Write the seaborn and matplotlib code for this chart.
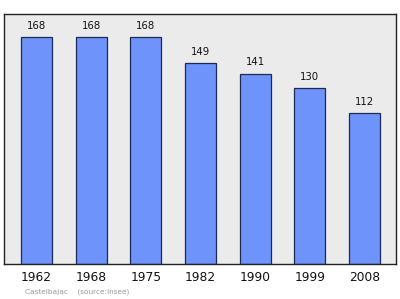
import matplotlib
matplotlib.use("Agg")
import matplotlib.pyplot as plt
import seaborn as sns
import pandas as pd

years = ["1962", "1968", "1975", "1982", "1990", "1999", "2008"]
population = [168, 168, 168, 149, 141, 130, 112]

df = pd.DataFrame({"year": years, "population": population})

sns.set_style("white")
plt.rcParams["font.family"] = ["DejaVu Sans"]

fig = plt.figure(figsize=(4.0, 2.99), dpi=100)
ax = fig.add_axes([0.01, 0.117, 0.979, 0.836])
ax.set_facecolor("#ebebeb")

sns.barplot(data=df, x="year", y="population", ax=ax, color="#6e93fb",
            saturation=1, width=0.57, edgecolor="#1d2a55", linewidth=0.9)

for i, v in enumerate(population):
    ax.text(i, v + 4.5, str(v), ha="center", va="bottom", fontsize=7.3, color="#111111")

ax.set_ylim(0, 185)
ax.set_xlim(-0.595, 6.57)
ax.set_yticks([])
ax.set_xlabel("")
ax.set_ylabel("")
ax.tick_params(axis="x", length=0, labelsize=8.8, pad=5, colors="#111111")
for s in ax.spines.values():
    s.set_visible(True)
    s.set_color("#222222")
    s.set_linewidth(1.0)

fig.text(0.062, 0.02, "Castelbajac    (source:Insee)", fontsize=5.3, color="#9a9a9a")

fig.savefig("out.png", dpi=100)
